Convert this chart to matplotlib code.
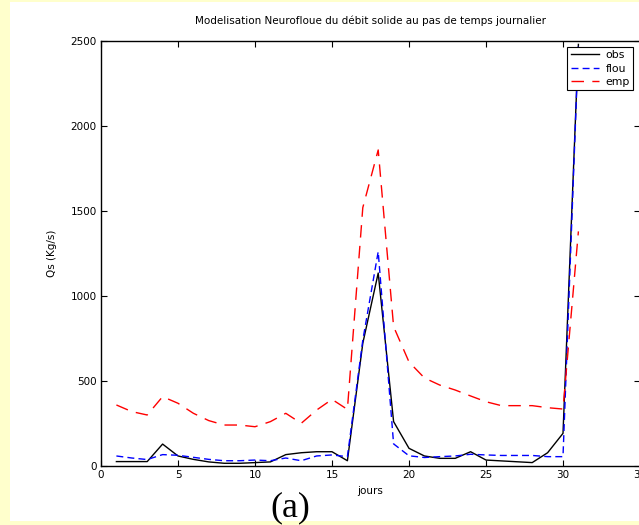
import numpy as np
import matplotlib
matplotlib.use("Agg")
import matplotlib.pyplot as plt
from matplotlib.patches import Rectangle

# ==================== data ====================
jours = list(range(1, 32))
obs = [26, 26, 26, 129, 59, 39, 24, 16, 16, 20, 24, 67, 78, 84, 84,
       31, 722, 1135, 261, 104, 59, 45, 45, 84, 35, 30, 25, 20, 78, 192, 2480]
flou = [59, 47, 38, 67, 63, 51, 39, 31, 31, 35, 31, 47, 31, 59, 65,
        55, 740, 1261, 130, 60, 50, 55, 59, 69, 65, 62, 62, 62, 55, 55, 2480]
emp = [359, 320, 300, 408, 369, 310, 267, 241, 241, 231, 261, 310, 251, 329, 392,
       333, 1520, 1859, 820, 612, 518, 476, 447, 412, 378, 355, 355, 355, 343, 335, 1380]

x_ticks = [0, 5, 10, 15, 20, 25, 30, 35]
y_ticks = [0, 500, 1000, 1500, 2000, 2500]
# ==============================================

W, H = 639, 525
fig = plt.figure(figsize=(W / 100, H / 100), dpi=100)
fig.patch.set_facecolor("#FFFFCC")
fig.patches.append(Rectangle((10 / W, 4 / H), 1, 519 / H, transform=fig.transFigure,
                             facecolor="white", edgecolor="none", zorder=-10))

ax = fig.add_axes([101 / W, (H - 466) / H, 539 / W, 425 / H])
ax.set_facecolor("white")

ax.plot(jours, obs, color="black", lw=1.0, label="obs")
ax.plot(jours, flou, color="blue", lw=1.0, linestyle=(0, (5, 3)), label="flou")
ax.plot(jours, emp, color="red", lw=1.0, linestyle=(0, (9, 6)), label="emp")

ax.set_xlim(0, 35)
ax.set_ylim(0, 2500)
ax.set_xticks(x_ticks)
ax.set_yticks(y_ticks)
ax.tick_params(direction="in", length=4, width=0.8, labelsize=7.5, top=True, right=True, pad=3)
for sp in ax.spines.values():
    sp.set_linewidth(1.0)

ax.set_title("Modelisation Neurofloue du débit solide au pas de temps journalier",
             fontsize=7.5, pad=12)
ax.set_xlabel("jours", fontsize=7.5, labelpad=4)
ax.set_ylabel("Qs (Kg/s)", fontsize=7.5, labelpad=10)

leg = ax.legend(loc="upper right", bbox_to_anchor=(633 / W, (H - 47) / H),
                bbox_transform=fig.transFigure, fontsize=7.8, fancybox=False,
                framealpha=1, edgecolor="black", handlelength=2.6, borderpad=0.3,
                labelspacing=0.3, handletextpad=0.6, borderaxespad=0)
leg.get_frame().set_linewidth(0.8)

fig.text(290 / W, (H - 508) / H, "(a)", fontsize=26, family="Liberation Serif",
         ha="center", va="center")

fig.savefig("out.png", dpi=100, facecolor=fig.get_facecolor())
